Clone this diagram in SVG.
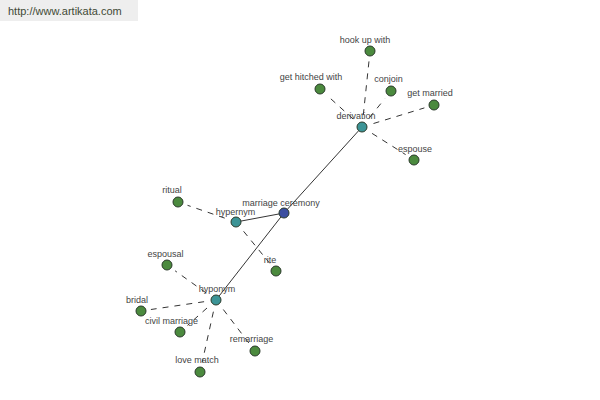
<svg xmlns="http://www.w3.org/2000/svg" width="600" height="400" viewBox="0 0 600 400">
<style>
text{font-family:"Liberation Sans",Arial,sans-serif;font-size:9px;fill:#444;text-anchor:middle}
.n{stroke:#2a3a2a;stroke-width:1}
.leaf{fill:#4b8a3e}
.hub{fill:#3c9496}
.root{fill:#3b4ea0}
.solid{stroke:#000;stroke-width:0.8;fill:none}
.dash{stroke:#000;stroke-width:0.8;stroke-dasharray:6,6;fill:none}
</style>
<rect x="0" y="0" width="138" height="21" fill="#eeeeee"/>
<text x="8" y="15" style="font-size:11px;text-anchor:start;fill:#3f4a36">http://www.artikata.com</text>
<g id="connectors">
<line class="solid" x1="284" y1="213" x2="362" y2="127"/>
<line class="solid" x1="284" y1="213" x2="216" y2="300"/>
<line class="solid" x1="284" y1="213" x2="236" y2="222"/>
<line class="dash" x1="363.3" y1="115.1" x2="369" y2="61"/>
<line class="dash" x1="353.1" y1="119" x2="327.4" y2="95.7"/>
<line class="dash" x1="369.5" y1="117.6" x2="384.7" y2="98.8"/>
<line class="dash" x1="373.5" y1="123.5" x2="424.4" y2="107.9"/>
<line class="dash" x1="372.1" y1="133.4" x2="405.6" y2="154.6"/>
<line class="dash" x1="224.7" y1="218.1" x2="187.5" y2="205.3"/>
<line class="dash" x1="243.6" y1="231.3" x2="269.7" y2="263.3"/>
<line class="dash" x1="206.2" y1="293" x2="175.1" y2="270.8"/>
<line class="dash" x1="204.1" y1="301.7" x2="150.9" y2="309.5"/>
<line class="dash" x1="207" y1="308" x2="187.5" y2="325.4"/>
<line class="dash" x1="223.3" y1="309.5" x2="248.9" y2="343.1"/>
<line class="dash" x1="213.4" y1="311.7" x2="202.2" y2="362.2"/>
</g>
<g id="marriage-ceremony"><circle class="n root" cx="284" cy="213" r="5"/><text x="281" y="206">marriage ceremony</text></g>
<g id="derivation"><circle class="n hub" cx="362" cy="127" r="5"/><text x="356" y="119">derivation</text></g>
<g id="hypernym"><circle class="n hub" cx="236" cy="222" r="5"/><text x="235.5" y="215">hypernym</text></g>
<g id="hyponym"><circle class="n hub" cx="216" cy="300" r="5"/><text x="217" y="292">hyponym</text></g>
<g id="hook-up-with"><circle class="n leaf" cx="370" cy="51" r="5"/><text x="365" y="43">hook up with</text></g>
<g id="get-hitched-with"><circle class="n leaf" cx="320" cy="89" r="5"/><text x="311" y="80">get hitched with</text></g>
<g id="conjoin"><circle class="n leaf" cx="391" cy="91" r="5"/><text x="388.5" y="82">conjoin</text></g>
<g id="get-married"><circle class="n leaf" cx="434" cy="105" r="5"/><text x="430" y="96">get married</text></g>
<g id="espouse"><circle class="n leaf" cx="414" cy="160" r="5"/><text x="415" y="152">espouse</text></g>
<g id="ritual"><circle class="n leaf" cx="178" cy="202" r="5"/><text x="172" y="193">ritual</text></g>
<g id="rite"><circle class="n leaf" cx="276" cy="271" r="5"/><text x="270" y="263">rite</text></g>
<g id="espousal"><circle class="n leaf" cx="167" cy="265" r="5"/><text x="165.5" y="257">espousal</text></g>
<g id="bridal"><circle class="n leaf" cx="141" cy="311" r="5"/><text x="137" y="303">bridal</text></g>
<g id="civil-marriage"><circle class="n leaf" cx="180" cy="332" r="5"/><text x="171.5" y="323.5">civil marriage</text></g>
<g id="remarriage"><circle class="n leaf" cx="255" cy="351" r="5"/><text x="251.5" y="342">remarriage</text></g>
<g id="love-match"><circle class="n leaf" cx="200" cy="372" r="5"/><text x="197" y="363">love match</text></g>
</svg>
